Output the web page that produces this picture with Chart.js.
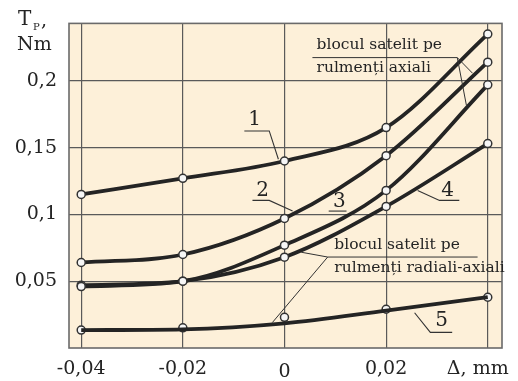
<!DOCTYPE html>
<html>
<head>
<meta charset="utf-8">
<script src="https://cdn.jsdelivr.net/npm/chart.js@4"></script>
<style>
  html, body { margin: 0; padding: 0; background: #fff; }
  #wrap { width: 518px; height: 381px; }
</style>
</head>
<body>
<div id="wrap"><canvas id="tpChart" width="518" height="381"></canvas></div>
<script>
// date
var deltaVals = [-0.04, -0.02, 0, 0.02, 0.04];
var curve1 = [0.115, 0.127, 0.140, 0.165, 0.235];
var curve2 = [0.064, 0.070, 0.097, 0.144, 0.214];
var curve3 = [0.046, 0.050, 0.077, 0.118, 0.197];
var curve4 = [0.047, 0.050, 0.068, 0.106, 0.153];
var curve5Line = [0.0134, 0.0140, 0.0185, 0.028, 0.038];
var curve5Pts = [0.0134, 0.0151, 0.023, 0.029, 0.038];

var xTicks = [-0.04, -0.02, 0, 0.02, 0.04];
var xTickLabels = ['-0,04', '-0,02', '0', '0,02', 'Δ, mm'];
var yTicks = [0.05, 0.1, 0.15, 0.2];
var yTickLabels = ['0,05', '0,1', '0,15', '0,2'];

var serif = '"DejaVu Serif", "Liberation Serif", serif';
var ink = '#242424';

function pts(ys) {
  return deltaVals.map(function (x, i) { return { x: x, y: ys[i] }; });
}

function curve(ys, withPts) {
  return {
    data: pts(ys),
    borderColor: ink,
    borderWidth: 3.8,
    cubicInterpolationMode: 'monotone',
    pointRadius: withPts ? 4 : 0,
    pointBackgroundColor: '#f6f6f6',
    pointBorderColor: '#333',
    pointBorderWidth: 1.5
  };
}

// fundal + chenar
var frame = {
  id: 'frame',
  beforeDraw: function (chart) {
    var a = chart.chartArea, c = chart.ctx;
    c.save();
    c.fillStyle = '#fdf0d9';
    c.fillRect(a.left, a.top, a.right - a.left, a.bottom - a.top);
    c.restore();
  },
  afterDatasetsDraw: function (chart) {
    var a = chart.chartArea, c = chart.ctx;
    c.save();
    c.strokeStyle = '#6a6a6a';
    c.lineWidth = 1.6;
    c.strokeRect(a.left, a.top, a.right - a.left, a.bottom - a.top);
    c.restore();
  }
};

// etichete, cifre si linii de indicatie
var notes = {
  id: 'notes',
  afterDraw: function (chart) {
    var c = chart.ctx, xs = chart.scales.x, ys = chart.scales.y;
    function X(v) { return xs.getPixelForValue(v); }
    function Y(v) { return ys.getPixelForValue(v); }
    function line(pts, w) {
      c.beginPath();
      c.moveTo(X(pts[0][0]), Y(pts[0][1]));
      for (var i = 1; i < pts.length; i++) c.lineTo(X(pts[i][0]), Y(pts[i][1]));
      c.lineWidth = w || 1;
      c.strokeStyle = '#333';
      c.stroke();
    }
    c.save();
    c.fillStyle = ink;
    c.textBaseline = 'middle';

    // etichete axa x
    c.font = '19px ' + serif;
    c.textAlign = 'center';
    xTicks.forEach(function (t, i) {
      var px = X(t), py = 369;
      if (t === 0) py = 372;
      if (i === xTicks.length - 1) px -= 10;
      c.fillText(xTickLabels[i], px, py);
    });

    // titlu axa y
    c.textAlign = 'left';
    c.font = '20px ' + serif;
    c.fillText('T', 18, 20);
    c.font = '10px ' + serif;
    c.fillText('P', 33, 27);
    c.font = '19px ' + serif;
    c.fillText(',', 41, 21);
    c.fillText('Nm', 17, 45);

    // numerele curbelor
    c.font = '20px ' + serif;
    c.textAlign = 'center';
    var nums = [
      ['1', -0.0059, 0.1706, [[-0.0079, 0.1625], [-0.0030, 0.1625], [-0.0012, 0.1413]]],
      ['2', -0.0043, 0.1179, [[-0.0063, 0.1105], [-0.0030, 0.1105], [0.0016, 0.1025]]],
      ['3', 0.0108, 0.1098, [[0.0087, 0.1025], [0.0122, 0.1025]]],
      ['4', 0.0321, 0.1179, [[0.0344, 0.1105], [0.0305, 0.1105], [0.0262, 0.1179]]],
      ['5', 0.0309, 0.0205, [[0.0330, 0.0117], [0.0287, 0.0117], [0.0256, 0.0264]]]
    ];
    nums.forEach(function (n) {
      c.fillText(n[0], X(n[1]), Y(n[2]));
      line(n[3], 1.1);
    });

    // casete text
    c.font = '15.5px ' + serif;
    c.textAlign = 'left';
    c.fillText('blocul satelit pe', X(0.0063), Y(0.2269));
    c.fillText('rulmenți axiali', X(0.0063), Y(0.2094));
    line([[0.0055, 0.2174], [0.0340, 0.2174], [0.0370, 0.2057]], 1);
    line([[0.0340, 0.2174], [0.0358, 0.1816]], 1);

    c.fillText('blocul satelit pe', X(0.0098), Y(0.0769));
    c.fillText('rulmenți radiali-axiali', X(0.0098), Y(0.0600));
    line([[0.0033, 0.0717], [0.0085, 0.0681], [0.0380, 0.0681]], 1);
    line([[0.0085, 0.0681], [-0.0024, 0.0190]], 1);
    c.restore();
  }
};

var ctx = document.getElementById('tpChart').getContext('2d');
var tpChart = new Chart(ctx, {
  type: 'line',
  data: {
    datasets: [
      curve(curve1, true),
      curve(curve2, true),
      curve(curve3, true),
      curve(curve4, true),
      curve(curve5Line, false),
      {
        data: pts(curve5Pts),
        showLine: false,
        pointRadius: 4,
        pointBackgroundColor: '#f6f6f6',
        pointBorderColor: '#333',
        pointBorderWidth: 1.5
      }
    ]
  },
  options: {
    responsive: false,
    animation: false,
    layout: { padding: { top: 16, right: 16, left: 0, bottom: 0 } },
    plugins: { legend: { display: false }, tooltip: { enabled: false } },
    scales: {
      x: {
        type: 'linear',
        min: -0.0424,
        max: 0.0428,
        afterBuildTicks: function (s) { s.ticks = xTicks.map(function (v) { return { value: v }; }); },
        afterFit: function (s) { s.height = 33; },
        ticks: { display: false },
        grid: { color: '#5a5a5a', lineWidth: 1.2, drawTicks: false },
        border: { display: false }
      },
      y: {
        min: 0,
        max: 0.243,
        afterBuildTicks: function (s) { s.ticks = yTicks.map(function (v) { return { value: v }; }); },
        afterFit: function (s) { s.width = 69; },
        ticks: {
          padding: 12,
          color: ink,
          font: { family: serif, size: 19 },
          callback: function (v) {
            var i = yTicks.indexOf(v);
            return i >= 0 ? yTickLabels[i] : '';
          }
        },
        grid: { color: '#5a5a5a', lineWidth: 1.2, drawTicks: false },
        border: { display: false }
      }
    }
  },
  plugins: [frame, notes]
});
</script>
</body>
</html>
